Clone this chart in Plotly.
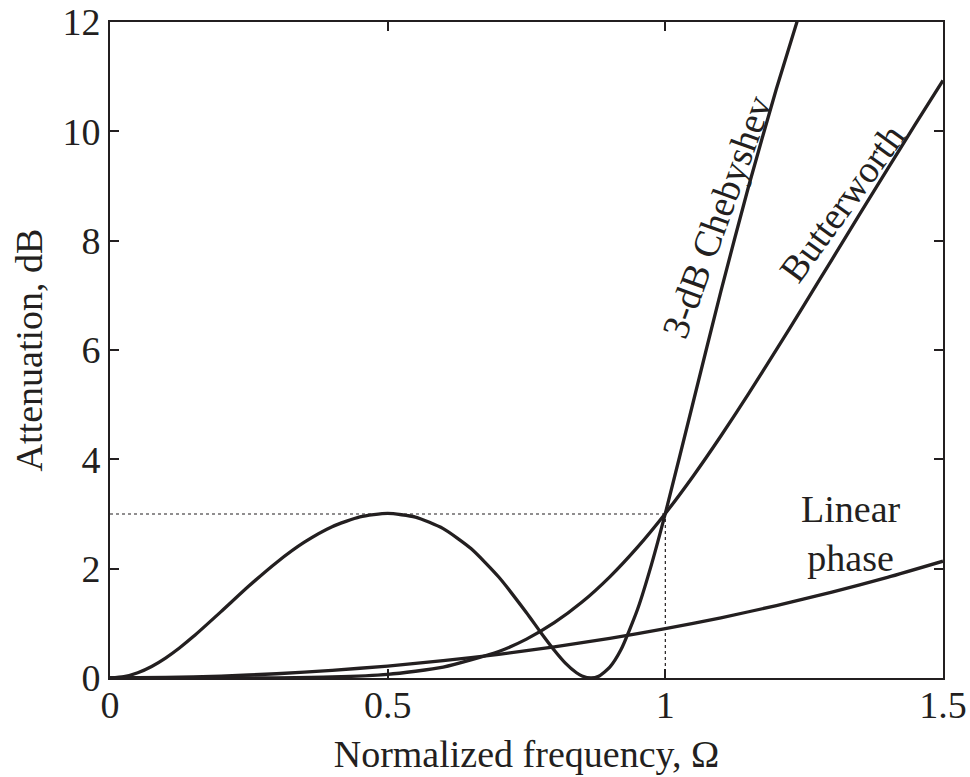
import plotly.graph_objects as go

# Normalized frequency samples
omega_cheb = [0.0, 0.025, 0.05, 0.075, 0.1, 0.125, 0.15, 0.2, 0.25, 0.3, 0.35, 0.4, 0.45, 0.5,
              0.55, 0.6, 0.65, 0.7, 0.75, 0.775, 0.8, 0.82, 0.84, 0.85, 0.866, 0.88, 0.9,
              0.92, 0.95, 0.975, 1.0, 1.05, 1.1, 1.15, 1.2, 1.25]
atten_cheb = [0.0, 0.024, 0.096, 0.211, 0.365, 0.549, 0.757, 1.214, 1.681, 2.114, 2.484,
              2.767, 2.947, 3.01, 2.943, 2.732, 2.368, 1.847, 1.194, 0.843, 0.508, 0.273,
              0.096, 0.038, 0.0, 0.032, 0.198, 0.515, 1.257, 2.074, 3.01, 5.04, 7.073,
              8.995, 10.78, 12.43]

omega_butter = [0.0, 0.1, 0.2, 0.3, 0.4, 0.5, 0.6, 0.7, 0.75, 0.8, 0.85, 0.9, 0.95, 1.0,
                1.05, 1.1, 1.15, 1.2, 1.25, 1.3, 1.35, 1.4, 1.45, 1.5]
atten_butter = [0.0, 0.0, 0.0003, 0.003, 0.018, 0.067, 0.198, 0.485, 0.711, 1.011, 1.389,
                1.851, 2.394, 3.01, 3.692, 4.427, 5.202, 6.005, 6.826, 7.655, 8.484, 9.309,
                10.126, 10.931]

omega_lin = [0.0, 0.1, 0.2, 0.3, 0.4, 0.5, 0.6, 0.7, 0.8, 0.9, 1.0, 1.1, 1.2, 1.3, 1.4, 1.5]
atten_lin = [0.0, 0.009, 0.035, 0.078, 0.14, 0.219, 0.317, 0.433, 0.569, 0.726, 0.903,
             1.102, 1.325, 1.57, 1.841, 2.137]

ref_x_h = [0.0, 1.0]
ref_y_h = [3.0, 3.0]
ref_x_v = [1.0, 1.0]
ref_y_v = [0.0, 3.0]

x_ticks = [0, 0.5, 1, 1.5]
x_tick_labels = ["0", "0.5", "1", "1.5"]
y_ticks = [0, 2, 4, 6, 8, 10, 12]

FONT = "Liberation Serif, Times New Roman, serif"
LINE = "#231f20"
FS = 38

fig = go.Figure()
fig.add_trace(go.Scatter(x=ref_x_h, y=ref_y_h, mode="lines",
                         line=dict(color=LINE, width=1.2, dash="dot"), showlegend=False))
fig.add_trace(go.Scatter(x=ref_x_v, y=ref_y_v, mode="lines",
                         line=dict(color=LINE, width=1.2, dash="dot"), showlegend=False))
for xs, ys in [(omega_cheb, atten_cheb), (omega_butter, atten_butter), (omega_lin, atten_lin)]:
    fig.add_trace(go.Scatter(x=xs, y=ys, mode="lines",
                             line=dict(color=LINE, width=3.3, shape="spline", smoothing=0.6),
                             showlegend=False))

fig.add_annotation(x=1.093, y=8.43, text="3-dB Chebyshev", textangle=-70, showarrow=False,
                   font=dict(family=FONT, size=FS, color=LINE))
fig.add_annotation(x=1.318, y=8.69, text="Butterworth", textangle=-54, showarrow=False,
                   font=dict(family=FONT, size=FS, color=LINE))
fig.add_annotation(x=1.335, y=2.65, text="Linear<br>phase", showarrow=False,
                   font=dict(family=FONT, size=FS, color=LINE))

axis_common = dict(showline=True, linecolor=LINE, linewidth=2, mirror="ticks",
                   ticks="inside", ticklen=9, tickwidth=2, tickcolor=LINE,
                   showgrid=False, zeroline=False, automargin=False,
                   tickfont=dict(family=FONT, size=FS, color=LINE))

fig.update_layout(
    width=970, height=777,
    margin=dict(l=110, r=27, t=22, b=99),
    paper_bgcolor="white", plot_bgcolor="white",
    xaxis=dict(range=[0, 1.5], tickvals=x_ticks, ticktext=x_tick_labels,
               ticklabelstandoff=-8,
               title=dict(text="Normalized frequency, Ω", font=dict(family=FONT, size=FS, color=LINE),
                          standoff=16),
               **axis_common),
    yaxis=dict(range=[0, 12], tickvals=y_ticks,
               title=dict(text="Attenuation, dB", font=dict(family=FONT, size=FS, color=LINE),
                          standoff=8),
               **axis_common),
)

fig.write_html("out.html")
